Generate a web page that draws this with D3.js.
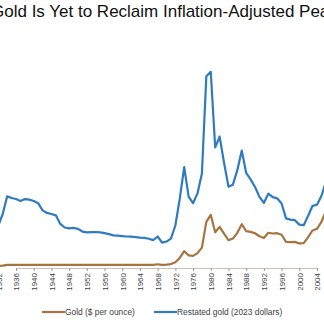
<!DOCTYPE html>
<html><head><meta charset="utf-8">
<script src="https://cdn.jsdelivr.net/npm/d3@7"></script>
<style>
html,body{margin:0;padding:0;background:#fff;}
svg{display:block;font-family:"Liberation Sans",Arial,sans-serif;}
</style></head>
<body><svg id="c" width="324" height="322"></svg>
<script>
const years = d3.range(1930, 2024);
// Gold, year-end $ per ounce
const goldNominal = [20.67,20.67,20.67,26,35,35,35,35,35,35,
35,35,35,35,35,35,35,35,35,35,
35,35,35,35,35,35,35,35,35,35,
35,35,35,35,35,35,35,35,41.9,35.2,
37.4,43.5,64.7,112.3,186.5,140.3,134.5,165,226,512,
589.8,397.5,456.9,382.4,308.3,327,390.9,486.5,410.2,401,
386.2,353.2,333,391.8,383.3,387,369.3,290.2,287.8,290.3,
272.7,276.5,342.8,417.3,435.6,513,632,833.8,869.8,1087.5,
1405.5,1531,1657.5,1204.5,1206,1060,1145.9,1296.5,1281.7,1523,
1887.6,1805.9,1812.4,2062];
// Restated gold, 2023 dollars
const goldReal = [377,414,470,600,796,778,767,745,766,760,
745,720,640,612,600,585,490,450,440,445,
435,405,395,398,400,396,388,376,362,360,
355,350,348,344,338,334,325,310,350,282,
294,327,472,770,1120,794,720,829,1050,2130,
2180,1340,1460,1170,904,926,1087,1305,1056,985,
900,790,723,826,788,774,717,551,538,531,
482,476,580,691,703,800,955,1225,1231,1545,
1963,2074,2200,1575,1552,1363,1455,1612,1555,1815,
2222,2030,1887,2062];
const tickYears = d3.range(1932, 2024, 4);
const seriesNames = ["Gold ($ per ounce)", "Restated gold (2023 dollars)"];
const seriesColors = ["#A6743F", "#2F7BC0"];
const titleText = "Gold Is Yet to Reclaim Inflation-Adjusted Peak";

const svg = d3.select("#c");
const x = d3.scaleLinear().domain([1936, 2004]).range([16, 317]);
const y = d3.scaleLinear().domain([0, 2500]).range([268, 43]);

svg.append("text").attr("x", -9).attr("y", 17)
  .attr("font-size", 17).attr("fill", "#111").text(titleText);

// axis
const ax = svg.append("g").attr("transform", `translate(0,${y(0)})`)
  .call(d3.axisBottom(x).tickValues(tickYears).tickFormat(d3.format("d")).tickSize(3).tickSizeOuter(0));
ax.select(".domain").attr("stroke", "#C9C2B8");
ax.selectAll(".tick line").attr("stroke", "#9a9a9a");
ax.selectAll(".tick text")
  .attr("transform", "rotate(-90)")
  .attr("text-anchor", "end")
  .attr("x", -5).attr("y", 0).attr("dy", "0.35em")
  .attr("font-size", 8).attr("fill", "#404040")
  .attr("font-family", "Liberation Sans, Arial, sans-serif");

const line = d3.line().x((d, i) => x(years[i])).y(d => y(d));
[goldNominal, goldReal].forEach((s, k) => {
  svg.append("path").datum(s).attr("d", line)
    .attr("fill", "none").attr("stroke", seriesColors[k])
    .attr("stroke-width", 2.2).attr("stroke-linejoin", "round");
});

// legend
const legX = [42, 154];
seriesNames.forEach((n, k) => {
  const g = svg.append("g").attr("transform", `translate(${legX[k]},312)`);
  g.append("line").attr("x1", 0).attr("x2", 23).attr("y1", 0).attr("y2", 0)
    .attr("stroke", seriesColors[k]).attr("stroke-width", 2.2);
  g.append("text").attr("x", 23).attr("y", 0).attr("dy", "0.35em")
    .attr("font-size", 8.4).attr("fill", "#404040").text(n);
});
</script></body></html>
